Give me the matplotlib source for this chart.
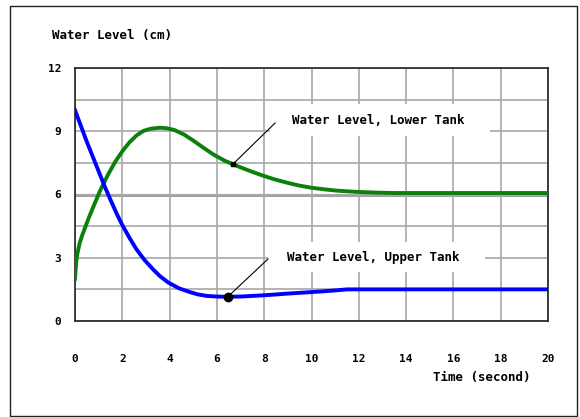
import matplotlib
matplotlib.use('Agg')
import matplotlib.pyplot as plt
from matplotlib.patches import Rectangle

# simulated tank levels (cm) vs time (s)
t_lower = [0, 0.05, 0.1, 0.2, 0.3, 0.4, 0.55, 0.75, 0.9, 1.05, 1.2, 1.4, 1.7, 2.0, 2.3,
           2.6, 2.9, 3.2, 3.6, 3.9, 4.2, 4.6, 5.0, 5.4, 5.85, 6.3, 6.7, 7.2, 7.8, 8.4,
           9.0, 9.5, 10.0, 10.5, 11.0, 11.5, 12.0, 12.75, 13.5, 20.0]
lvl_lower = [2.0, 2.8, 3.2, 3.7, 4.05, 4.35, 4.8, 5.35, 5.75, 6.15, 6.5, 6.95, 7.55, 8.05, 8.47,
             8.8, 9.02, 9.12, 9.17, 9.14, 9.06, 8.85, 8.56, 8.24, 7.9, 7.62, 7.42, 7.2, 6.95, 6.73,
             6.55, 6.42, 6.32, 6.25, 6.19, 6.15, 6.12, 6.09, 6.07, 6.07]
t_upper = [0, 0.25, 0.5, 0.75, 1.0, 1.25, 1.5, 1.75, 2.0, 2.3, 2.6, 2.95, 3.3, 3.6, 3.95,
           4.4, 4.86, 5.2, 5.57, 6.0, 6.4, 7.0, 7.5, 8.0, 8.5, 9.0, 9.7, 10.4, 11.0, 11.5, 20.0]
lvl_upper = [10.0, 9.25, 8.5, 7.8, 7.1, 6.4, 5.75, 5.12, 4.55, 3.95, 3.4, 2.88, 2.45, 2.12, 1.82,
             1.55, 1.37, 1.26, 1.19, 1.16, 1.15, 1.16, 1.19, 1.22, 1.26, 1.3, 1.35, 1.4, 1.45, 1.5, 1.5]

x_ticks = [0, 2, 4, 6, 8, 10, 12, 14, 16, 18, 20]
y_ticks = [0, 3, 6, 9, 12]
y_grid = [1.5, 4.5, 7.5, 10.5]

label_lower = 'Water Level, Lower Tank'
label_upper = 'Water Level, Upper Tank'
pt_lower = (6.67, 7.43)
pt_upper = (6.46, 1.15)

FONT = 'DejaVu Sans Mono'

fig = plt.figure(figsize=(5.8, 4.17), dpi=100)
fig.patches.append(Rectangle((10 / 580, 1 - 416 / 417), 567 / 580, 410 / 417,
                             transform=fig.transFigure, fill=False,
                             edgecolor='#222222', lw=1.0))
ax = fig.add_axes([75 / 580, 1 - 321 / 417, 473 / 580, 253 / 417])

ax.set_xlim(0, 20)
ax.set_ylim(0, 12)
ax.set_xticks(x_ticks)
ax.set_yticks(y_ticks)
ax.set_yticks(y_grid, minor=True)
ax.grid(True, which='both', color='#a8a8a8', lw=1.2, zorder=0)
ax.axhline(6, color='#a0a0a0', lw=2.2, zorder=0.5)
ax.tick_params(which='both', length=0)
ax.tick_params(axis='x', pad=24)
ax.tick_params(axis='y', pad=10)
for lab in ax.get_xticklabels() + ax.get_yticklabels():
    lab.set_fontfamily(FONT)
    lab.set_fontsize(8)
    lab.set_fontweight('bold')
for sp in ax.spines.values():
    sp.set_color('#222222')
    sp.set_linewidth(1.2)
ax.set_axisbelow(True)

# white backing behind the callout texts
ax.add_patch(Rectangle((8.25, 8.77), 9.3, 1.52, facecolor='white', edgecolor='none', zorder=1))
ax.add_patch(Rectangle((8.16, 2.32), 9.18, 1.43, facecolor='white', edgecolor='none', zorder=1))

ax.plot(t_lower, lvl_lower, color='#0b800b', lw=2.8, zorder=3, solid_joinstyle='round')
ax.plot(t_upper, lvl_upper, color='#0000ff', lw=2.8, zorder=3, solid_joinstyle='round')

# callouts
ax.plot([8.46, pt_lower[0]], [9.39, pt_lower[1]], color='black', lw=0.8, zorder=4)
ax.plot(*pt_lower, marker='s', ms=3, color='black', zorder=5)
ax.text(9.17, 9.49, label_lower, fontsize=9, fontfamily=FONT, fontweight='bold',
        va='center', ha='left', zorder=4)
ax.plot([8.16, pt_upper[0]], [2.94, pt_upper[1]], color='black', lw=0.8, zorder=4)
ax.plot(*pt_upper, marker='o', ms=6, color='black', zorder=5)
ax.text(8.96, 3.03, label_upper, fontsize=9, fontfamily=FONT, fontweight='bold',
        va='center', ha='left', zorder=4)

fig.text(52 / 580, 1 - 35 / 417, 'Water Level (cm)', fontsize=9, fontfamily=FONT,
         fontweight='bold', va='center', ha='left')
fig.text(482 / 580, 1 - 377 / 417, 'Time (second)', fontsize=9, fontfamily=FONT,
         fontweight='bold', va='center', ha='center')

fig.savefig('out.png', dpi=100)
